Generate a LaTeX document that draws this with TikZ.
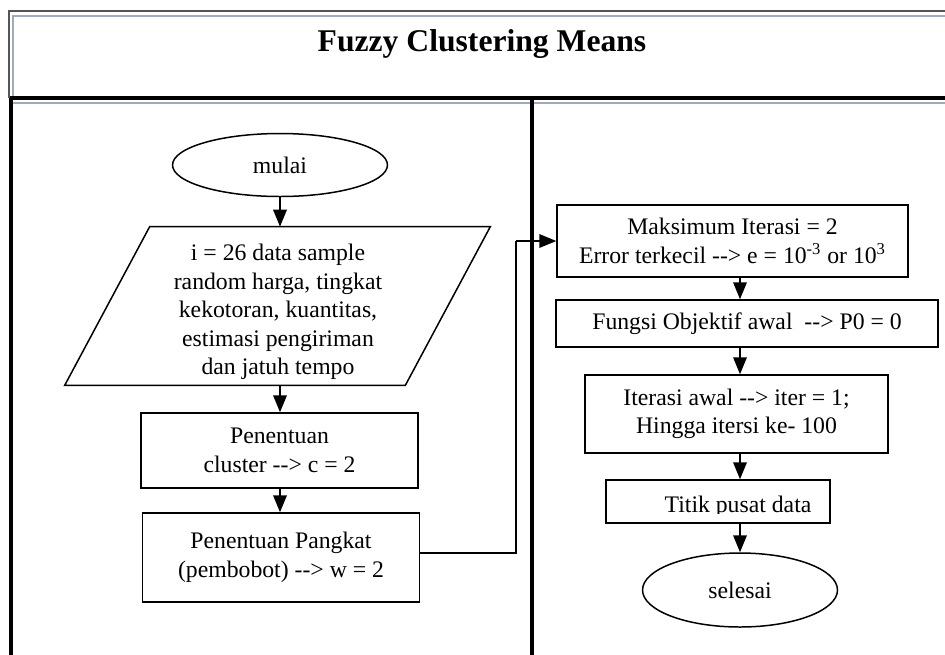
\documentclass[tikz,border=0pt]{standalone}
\usepackage{fontspec}
\setmainfont{Liberation Serif}
\usetikzlibrary{arrows.meta,shapes.geometric}
\definecolor{framedark}{RGB}{85,85,85}
\definecolor{framelight}{RGB}{160,172,190}
\tikzset{
  flowbox/.style={draw, line width=0.85pt, align=center, inner sep=2pt},
  termnode/.style={draw, ellipse, line width=0.85pt, inner sep=0pt},
  flowarrow/.style={line width=1.1pt, -{Triangle[length=3.4mm, width=2.7mm]}},
  tableline/.style={line width=2pt},
}

\begin{document}
\begin{tikzpicture}[x=0.02cm, y=-0.02cm, font=\fontsize{13.5}{16.2}\selectfont]
  \useasboundingbox (0,0) rectangle (945,654);
  \draw[line width=1.2pt, framedark] (9,98) -- (9,11) -- (950,11);
  \draw[line width=0.9pt, framelight] (13,98) -- (13,16) -- (950,16);
  \draw[tableline] (10,98) -- (950,98);
  \draw[line width=0.9pt, framelight] (13,103) -- (950,103);
  \draw[tableline] (11,98) -- (11,660);
  \draw[tableline] (532,98) -- (532,660);
  \node[font=\fontsize{18}{21}\selectfont\bfseries, anchor=base] (title) at (482,51) {Fuzzy Clustering Means};

  \node[termnode, minimum width=4.3cm, minimum height=1.26cm] (mulai) at (280,165) {mulai};
  \node[inner sep=0pt, minimum width=6.8cm, minimum height=3.16cm] (input) at (277.5,306) {};
  \node[align=center, inner sep=0pt] (inputtext) at (278,312)
    {i = 26 data sample\\random harga, tingkat\\kekotoran, kuantitas,\\estimasi pengiriman\\dan jatuh tempo};
  \draw[line width=0.85pt] ([xshift=0.85cm]input.north west) -- ([xshift=0.85cm]input.north east)
    -- ([xshift=-0.85cm]input.south east) -- ([xshift=-0.85cm]input.south west) -- cycle;
  \node[flowbox, minimum width=5.54cm, minimum height=1.5cm] (cluster) at (279.5,450.5) {Penentuan\\cluster -{}-> c = 2};
  \node[flowbox, minimum width=5.54cm, minimum height=1.78cm] (pangkat) at (281,557.5) {Penentuan Pangkat\\(pembobot) -{}-> w = 2};

  \node[flowbox, minimum width=7.02cm, minimum height=1.44cm] (maks) at (732.5,241)
    {Maksimum Iterasi = 2\\Error terkecil -{}-> e = 10\textsuperscript{-3} or 10\textsuperscript{3}};
  \node[flowbox, minimum width=7.64cm, minimum height=0.94cm] (fungsi) at (747,323.5) {Fungsi Objektif awal~ -{}-> P0 = 0};
  \node[flowbox, minimum width=6.06cm, minimum height=1.56cm] (iterasi) at (736.5,414) {Iterasi awal -{}-> iter = 1;\\Hingga itersi ke- 100};
  \node[flowbox, minimum width=4.48cm, minimum height=0.86cm] (titik) at (718,501.5) {};
  \begin{scope}
    \clip (titik.north west) rectangle ([yshift=0.2cm]titik.south east);
    \node[anchor=base] (titiktext) at (738,512) {Titik pusat data};
  \end{scope}
  \node[termnode, minimum width=3.9cm, minimum height=1.48cm] (selesai) at (740,590) {selesai};

  \coordinate (spine) at (740,0);
  \coordinate (bend) at (516,0);
  \draw[flowarrow] (mulai.south) -- (input.north -| mulai);
  \draw[flowarrow] (input.south -| mulai) -- (cluster.north -| mulai);
  \draw[flowarrow] (cluster.south -| mulai) -- (pangkat.north -| mulai);
  \draw[line width=1.1pt] ([yshift=0.09cm]pangkat.east) -- ([yshift=0.09cm]pangkat.east -| bend) -- (bend |- maks.west);
  \draw[flowarrow] (bend |- maks.west) -- (maks.west);
  \draw[flowarrow] (maks.south -| spine) -- (fungsi.north -| spine);
  \draw[flowarrow] (fungsi.south -| spine) -- (iterasi.north -| spine);
  \draw[flowarrow] (iterasi.south -| spine) -- (titik.north -| spine);
  \draw[flowarrow] (titik.south -| spine) -- (selesai.north);
\end{tikzpicture}
\end{document}
